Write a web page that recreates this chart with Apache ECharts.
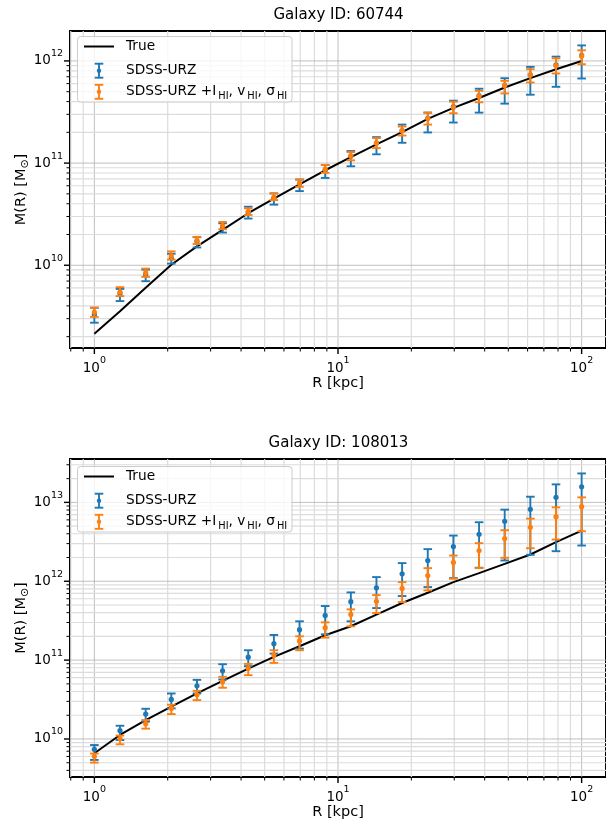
<!DOCTYPE html>
<html>
<head>
<meta charset="utf-8">
<script src="https://cdn.jsdelivr.net/npm/echarts@6/dist/echarts.min.js"></script>
<style>
  html, body { margin: 0; padding: 0; background: #ffffff; }
  #chart { width: 606px; height: 825px; }
</style>
</head>
<body>
<div id="chart"></div>
<script>
// Sampling radii (kpc), shared by both galaxies
const radiusKpc = [1.000, 1.274, 1.624, 2.069, 2.637, 3.360, 4.281, 5.456, 6.952, 8.859,
                   11.29, 14.38, 18.33, 23.36, 29.76, 37.93, 48.33, 61.58, 78.48, 100.0];

// Galaxy 60744: enclosed mass M(R) in solar masses
const trueMass60744 = [2.14e9, 3.55e9, 6.03e9, 1.01e10, 1.53e10, 2.22e10, 3.23e10, 4.48e10, 6.18e10, 8.51e10,
                       1.146e11, 1.524e11, 2.009e11, 2.710e11, 3.467e11, 4.335e11, 5.495e11, 6.79e11, 8.30e11, 1.00e12];
const urzMass60744  = [3.30e9, 5.30e9, 8.11e9, 1.178e10, 1.710e10, 2.339e10, 3.296e10, 4.55e10, 6.27e10, 8.51e10,
                       1.164e11, 1.570e11, 2.084e11, 2.748e11, 3.573e11, 4.571e11, 5.754e11, 7.31e11, 9.14e11, 1.135e12];
const urzLow60744   = [2.74e9, 4.46e9, 6.98e9, 1.038e10, 1.493e10, 2.089e10, 2.864e10, 3.92e10, 5.32e10, 7.16e10,
                       9.31e10, 1.219e11, 1.581e11, 1.995e11, 2.495e11, 3.119e11, 3.819e11, 4.67e11, 5.58e11, 6.73e11];
const urzHigh60744  = [3.84e9, 5.87e9, 9.06e9, 1.297e10, 1.884e10, 2.576e10, 3.741e10, 5.05e10, 6.90e10, 9.59e10,
                       1.312e11, 1.795e11, 2.382e11, 3.119e11, 4.083e11, 5.346e11, 6.776e11, 8.75e11, 1.102e12, 1.419e12];
const hiMass60744   = [3.48e9, 5.46e9, 8.41e9, 1.239e10, 1.750e10, 2.443e10, 3.350e10, 4.65e10, 6.37e10, 8.71e10,
                       1.183e11, 1.570e11, 2.070e11, 2.748e11, 3.516e11, 4.498e11, 5.754e11, 7.31e11, 9.02e11, 1.119e12];
const hiLow60744    = [3.12e9, 4.99e9, 7.69e9, 1.135e10, 1.611e10, 2.254e10, 3.105e10, 4.35e10, 5.86e10, 8.02e10,
                       1.064e11, 1.403e11, 1.862e11, 2.382e11, 3.076e11, 3.936e11, 4.808e11, 6.15e11, 7.53e11, 9.29e11];
const hiHigh60744   = [3.84e9, 6.10e9, 9.27e9, 1.368e10, 1.897e10, 2.655e10, 3.606e10, 5.05e10, 6.90e10, 9.59e10,
                       1.282e11, 1.758e11, 2.280e11, 3.119e11, 3.990e11, 5.105e11, 6.383e11, 8.30e11, 1.062e12, 1.271e12];

// Galaxy 108013
const trueMass108013 = [6.59e9, 1.125e10, 1.738e10, 2.564e10, 3.776e10, 5.458e10, 7.82e10, 1.099e11, 1.500e11, 2.065e11,
                        2.685e11, 3.767e11, 5.30e11, 7.15e11, 9.75e11, 1.268e12, 1.663e12, 2.183e12, 3.126e12, 4.385e12];
const urzMass108013  = [7.40e9, 1.274e10, 2.070e10, 3.170e10, 4.72e10, 7.31e10, 1.089e11, 1.618e11, 2.432e11, 3.690e11,
                        5.50e11, 8.26e11, 1.242e12, 1.832e12, 2.754e12, 3.945e12, 5.76e12, 8.17e12, 1.158e13, 1.578e13];
const urzLow108013   = [5.43e9, 9.70e9, 1.660e10, 2.443e10, 3.78e10, 5.68e10, 8.38e10, 1.211e11, 1.400e11, 2.123e11,
                        3.105e11, 4.57e11, 6.49e11, 8.43e11, 1.096e12, 1.483e12, 1.832e12, 2.163e12, 2.404e12, 2.838e12];
const urzHigh108013  = [8.38e9, 1.472e10, 2.415e10, 3.776e10, 5.62e10, 8.87e10, 1.334e11, 2.084e11, 3.105e11, 4.85e11,
                        7.22e11, 1.129e12, 1.698e12, 2.553e12, 3.793e12, 5.60e12, 8.09e12, 1.180e13, 1.691e13, 2.328e13];
const hiMass108013   = [6.03e9, 1.012e10, 1.564e10, 2.443e10, 3.64e10, 5.31e10, 7.89e10, 1.153e11, 1.750e11, 2.582e11,
                        3.80e11, 5.56e11, 8.11e11, 1.183e12, 1.730e12, 2.455e12, 3.477e12, 4.83e12, 6.59e12, 8.81e12];
const hiLow108013    = [5.02e9, 8.57e9, 1.352e10, 2.070e10, 3.11e10, 4.46e10, 6.44e10, 9.22e10, 1.334e11, 1.928e11,
                        2.685e11, 3.95e11, 5.45e11, 7.66e11, 1.074e12, 1.466e12, 1.982e12, 2.624e12, 3.381e12, 4.305e12];
const hiHigh108013   = [6.53e9, 1.104e10, 1.738e10, 2.716e10, 4.08e10, 6.14e10, 8.95e10, 1.334e11, 2.004e11, 3.013e11,
                        4.40e11, 6.68e11, 9.75e11, 1.466e12, 2.118e12, 3.036e12, 4.436e12, 6.22e12, 8.65e12, 1.158e13];

// Text
const titles = ['Galaxy ID: 60744', 'Galaxy ID: 108013'];
const legendTrue = 'True';
const legendUrz = 'SDSS-URZ';
const xAxisTitle = 'R [kpc]';

// Styling
const FONT = 'DejaVu Sans';
const BLUE = '#1f77b4';
const ORANGE = '#ff7f0e';
const X_MIN = Math.pow(10, -0.1);
const X_MAX = Math.pow(10, 2.1);

const panels = [
  { top: 31,  height: 317, yMin: Math.pow(10, 9.19),  yMax: Math.pow(10, 12.293),
    trueM: trueMass60744, urz: [urzMass60744, urzLow60744, urzHigh60744], hi: [hiMass60744, hiLow60744, hiHigh60744] },
  { top: 459, height: 318, yMin: Math.pow(10, 9.518), yMax: Math.pow(10, 13.55),
    trueM: trueMass108013, urz: [urzMass108013, urzLow108013, urzHigh108013], hi: [hiMass108013, hiLow108013, hiHigh108013] }
];
const GRID_LEFT = 70;
const GRID_WIDTH = 537;

// log-axis tick positions (decades and 2..9 sub-decades) within [lo, hi]
function logTicks(lo, hi) {
  const out = [];
  for (let d = Math.floor(Math.log10(lo)) - 1; d <= Math.ceil(Math.log10(hi)); d++) {
    for (let m = 1; m <= 9; m++) {
      const v = m * Math.pow(10, d);
      if (v >= lo * 1.0001 && v <= hi / 1.0001) out.push({ v: v, major: m === 1 });
    }
  }
  return out;
}

const majorGridStyle = { stroke: '#b0b0b0', lineWidth: 0.8 };
const minorGridStyle = { stroke: '#dcdcdc', lineWidth: 1.2 };

function gridRenderer(p) {
  const xt = logTicks(X_MIN, X_MAX);
  const yt = logTicks(p.yMin, p.yMax);
  return function (params, api) {
    const cs = params.coordSys;
    const L = cs.x, R = cs.x + cs.width, T = cs.y, B = cs.y + cs.height;
    const kids = [];
    xt.forEach(function (t) {
      const x = api.coord([t.v, p.yMin * 2])[0];
      kids.push({ type: 'line', shape: { x1: x, y1: T, x2: x, y2: B }, style: t.major ? majorGridStyle : minorGridStyle });
      kids.push({ type: 'line', shape: { x1: x, y1: B, x2: x, y2: B + (t.major ? 6 : 3.5) },
                  style: { stroke: '#000', lineWidth: t.major ? 1.4 : 1 } });
    });
    yt.forEach(function (t) {
      const y = api.coord([2, t.v])[1];
      kids.push({ type: 'line', shape: { x1: L, y1: y, x2: R, y2: y }, style: t.major ? majorGridStyle : minorGridStyle });
      kids.push({ type: 'line', shape: { x1: L, y1: y, x2: L - (t.major ? 6 : 3.5), y2: y },
                  style: { stroke: '#000', lineWidth: t.major ? 1.4 : 1 } });
    });
    return { type: 'group', children: kids };
  };
}

function errorBarRenderer(color) {
  return function (params, api) {
    const r = api.value(0);
    const pm = api.coord([r, api.value(1)]);
    const pl = api.coord([r, api.value(2)]);
    const ph = api.coord([r, api.value(3)]);
    const cap = 4.3;
    const st = { stroke: color, lineWidth: 1.9 };
    return {
      type: 'group',
      children: [
        { type: 'line', shape: { x1: pl[0], y1: pl[1], x2: ph[0], y2: ph[1] }, style: st },
        { type: 'line', shape: { x1: pl[0] - cap, y1: pl[1], x2: pl[0] + cap, y2: pl[1] }, style: st },
        { type: 'line', shape: { x1: ph[0] - cap, y1: ph[1], x2: ph[0] + cap, y2: ph[1] }, style: st },
        { type: 'circle', shape: { cx: pm[0], cy: pm[1], r: 2.6 }, style: { fill: color } }
      ]
    };
  };
}

// Rich-text pieces: vertical offset of a token = (padTop - padBottom) / 2 within a shared line height
const tickRich = {
  b: { fontFamily: FONT, fontSize: 13.5, color: '#000', lineHeight: 16, verticalAlign: 'middle' },
  e: { fontFamily: FONT, fontSize: 9.5, color: '#000', lineHeight: 16, verticalAlign: 'middle', padding: [0, 0, 14, 0] }
};
function powLabel(v) {
  return '{b|10}{e|' + Math.round(Math.log10(v)) + '}';
}

const grids = [], xAxes = [], yAxes = [], series = [];
panels.forEach(function (p, i) {
  grids.push({ left: GRID_LEFT, top: p.top, width: GRID_WIDTH, height: p.height,
               show: true, borderColor: '#000', borderWidth: 2, backgroundColor: 'transparent' });
  xAxes.push({
    type: 'log', logBase: 10, gridIndex: i, min: X_MIN, max: X_MAX,
    axisLine: { show: false }, axisTick: { show: false }, splitLine: { show: false },
    axisLabel: { formatter: powLabel, rich: tickRich, margin: 12, showMinLabel: false, showMaxLabel: false },
    name: xAxisTitle, nameLocation: 'middle', nameGap: 28, nameMoveOverlap: false,
    nameTextStyle: { fontFamily: FONT, fontSize: 14.5, color: '#000' }
  });
  yAxes.push({
    type: 'log', logBase: 10, gridIndex: i, min: p.yMin, max: p.yMax,
    axisLine: { show: false }, axisTick: { show: false }, splitLine: { show: false },
    axisLabel: { formatter: powLabel, rich: tickRich, margin: 7, showMinLabel: false, showMaxLabel: false },
    name: '{n|M(R) [M}{s|\u2299}{n|]}', nameLocation: 'middle', nameGap: 40, nameRotate: 90, nameMoveOverlap: false,
    nameTextStyle: {
      rich: {
        n: { fontFamily: FONT, fontSize: 14.5, color: '#000', lineHeight: 18, verticalAlign: 'middle' },
        s: { fontFamily: FONT, fontSize: 11, color: '#000', lineHeight: 18, verticalAlign: 'middle', padding: [9, 0, 0, 0] }
      }
    }
  });
  series.push({
    type: 'custom', xAxisIndex: i, yAxisIndex: i, z: 1, silent: true,
    renderItem: gridRenderer(p), data: [[2, p.yMin * 2]], encode: { x: 0, y: 1 }
  });
  series.push({
    type: 'line', xAxisIndex: i, yAxisIndex: i, z: 2, showSymbol: false, silent: true,
    lineStyle: { color: '#000', width: 2 },
    data: radiusKpc.map(function (r, k) { return [r, p.trueM[k]]; })
  });
  series.push({
    type: 'custom', xAxisIndex: i, yAxisIndex: i, z: 3, silent: true,
    renderItem: errorBarRenderer(BLUE), encode: { x: 0, y: [1, 2, 3] },
    data: radiusKpc.map(function (r, k) { return [r, p.urz[0][k], p.urz[1][k], p.urz[2][k]]; })
  });
  series.push({
    type: 'custom', xAxisIndex: i, yAxisIndex: i, z: 4, silent: true,
    renderItem: errorBarRenderer(ORANGE), encode: { x: 0, y: [1, 2, 3] },
    data: radiusKpc.map(function (r, k) { return [r, p.hi[0][k], p.hi[1][k], p.hi[2][k]]; })
  });
});

// Titles and legend boxes
const legendRich = {
  n: { fontFamily: FONT, fontSize: 13.7, color: '#000', lineHeight: 18, verticalAlign: 'middle' },
  s: { fontFamily: FONT, fontSize: 9.8, color: '#000', lineHeight: 18, verticalAlign: 'middle', padding: [9, 0, 0, 2] }
};
function errIcon(x, y, color) {
  const st = { stroke: color, lineWidth: 1.9 };
  return [
    { type: 'line', z: 101, shape: { x1: x, y1: y - 7, x2: x, y2: y + 7 }, style: st },
    { type: 'line', z: 101, shape: { x1: x - 4.3, y1: y - 7, x2: x + 4.3, y2: y - 7 }, style: st },
    { type: 'line', z: 101, shape: { x1: x - 4.3, y1: y + 7, x2: x + 4.3, y2: y + 7 }, style: st },
    { type: 'circle', z: 101, shape: { cx: x, cy: y, r: 2.2 }, style: { fill: color } }
  ];
}
const graphics = [];
panels.forEach(function (p, i) {
  const cx = GRID_LEFT + GRID_WIDTH / 2;
  graphics.push({ type: 'text', z: 100, style: { text: titles[i], x: cx, y: p.top - 16, align: 'center', verticalAlign: 'middle',
                  fontFamily: FONT, fontSize: 15, fill: '#000' } });
  const lt = p.top + (i === 0 ? 5 : 7);
  graphics.push({ type: 'rect', z: 100, shape: { x: 77.5, y: lt + 0.5, width: 214.5, height: 65.5, r: 3 },
                  style: { fill: 'rgba(255,255,255,0.8)', stroke: '#cccccc', lineWidth: 1 } });
  graphics.push({ type: 'line', z: 101, shape: { x1: 84, y1: lt + 10.5, x2: 114, y2: lt + 10.5 }, style: { stroke: '#000', lineWidth: 2 } });
  graphics.push({ type: 'text', z: 101, style: { text: legendTrue, x: 126, y: lt + 10.5, verticalAlign: 'middle', fontFamily: FONT, fontSize: 13.7, fill: '#000' } });
  graphics.push({ type: 'text', z: 101, style: { text: legendUrz, x: 126, y: lt + 34.7, verticalAlign: 'middle', fontFamily: FONT, fontSize: 13.7, fill: '#000' } });
  graphics.push({ type: 'text', z: 101, style: { text: '{n|SDSS-URZ +I}{s|HI}{n|, v}{s|HI}{n|, \u03c3}{s|HI}', rich: legendRich,
                                                 x: 126, y: lt + 55.8, verticalAlign: 'middle' } });
  errIcon(99, lt + 34.7, BLUE).concat(errIcon(99, lt + 55.8, ORANGE)).forEach(function (g) { graphics.push(g); });
});

const chart = echarts.init(document.getElementById('chart'), null, { renderer: 'canvas' });
chart.setOption({
  animation: false,
  backgroundColor: '#ffffff',
  grid: grids,
  xAxis: xAxes,
  yAxis: yAxes,
  series: series,
  graphic: graphics
});
</script>
</body>
</html>
